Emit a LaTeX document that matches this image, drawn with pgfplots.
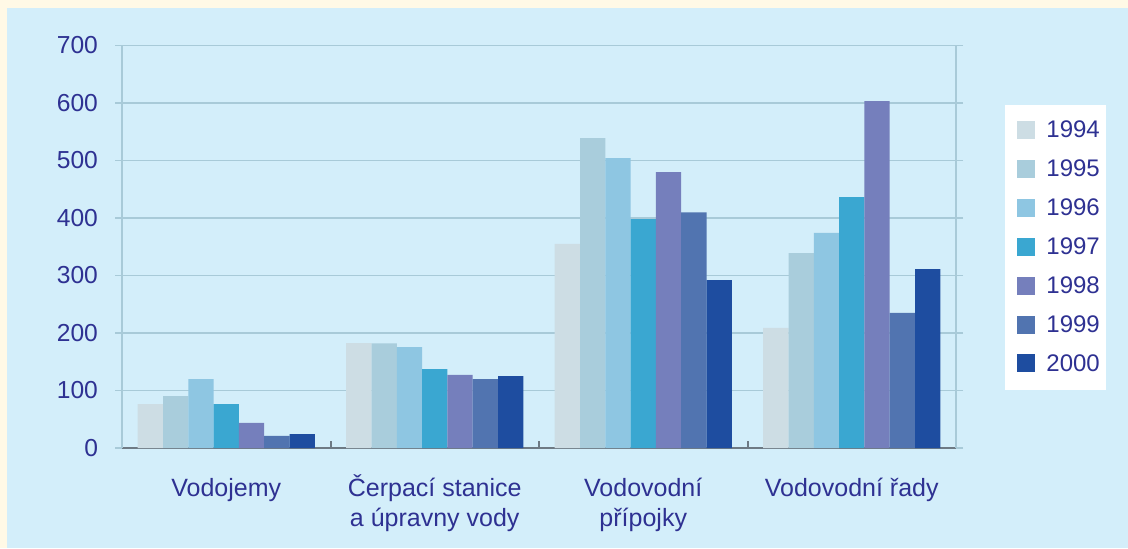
\documentclass[border=0pt]{standalone}
\usepackage{pgfplots}
\pgfplotsset{compat=1.18}
\usepackage{fontspec}
\setmainfont{Liberation Sans}
\definecolor{cream}{HTML}{FFF9E6}
\definecolor{panel}{HTML}{D3EEFA}
\definecolor{gridc}{HTML}{A8CAD8}
\definecolor{axc}{HTML}{6E7A84}
\definecolor{txt}{HTML}{2E3192}
\definecolor{c94}{HTML}{CDDDE4}
\definecolor{c95}{HTML}{A9CDDC}
\definecolor{c96}{HTML}{8EC6E2}
\definecolor{c97}{HTML}{3AA7D1}
\definecolor{c98}{HTML}{757FBC}
\definecolor{c99}{HTML}{5174B0}
\definecolor{c00}{HTML}{1E4DA0}
\begin{document}
\begin{tikzpicture}
\useasboundingbox (0,0) rectangle (564pt,274pt);
\fill[cream] (0,0) rectangle (564pt,274pt);
\fill[panel] (3.5pt,0) rectangle (564pt,270pt);
\begin{axis}[
  at={(61pt,50pt)}, anchor=south west, scale only axis,
  width=417pt, height=201.25pt,
  ybar=0pt, bar width=12.65pt,
  xmin=0.5, xmax=4.5, ymin=0, ymax=700,
  axis x line*=bottom, axis y line*=box,
  x axis line style={axc, line width=1pt},
  y axis line style={gridc, line width=0.6pt},
  xtick={1,2,3,4},
  xticklabels={Vodojemy\vphantom{Č}, {Čerpací stanice\\a úpravny vody}, {Vodovodní\vphantom{Č}\\přípojky}, Vodovodní řady\vphantom{Č}},
  xtick style={draw=none},
  extra x ticks={1.5,2.5,3.5}, extra x tick labels={},
  extra x tick style={xtick style={draw=axc, line width=1pt}, tick align=inside, xmajorgrids=false},
  ytick={0,100,...,700},
  ytick style={draw=gridc, line width=0.6pt},
  tick align=outside, major tick length=3.5pt,
  ymajorgrids, grid style={gridc, line width=0.6pt},
  /pgf/number format/assume math mode=true,
  yticklabel style={font=\fontsize{12.3}{14}\selectfont, text=txt, xshift=-5pt},
  xticklabel style={font=\fontsize{12.5}{15}\selectfont, text=txt, align=center, anchor=north, yshift=-6.5pt},
  legend style={at={(1.0588,0.8536)}, anchor=north west, draw=none, fill=white,
    inner xsep=1pt, inner ysep=6pt, row sep=5.6pt,
    font=\fontsize{12}{14}\selectfont, text=txt,
    nodes={inner sep=2pt, text depth=0.15em}, cells={anchor=west}},
  legend image code/.code={\path (0pt,0pt) (17.5pt,0pt); \fill[#1] (5pt,-4pt) rectangle (14pt,5pt);},
]
\addplot[fill=c94, draw=none] coordinates {(1,76.5) (2,182.6) (3,355) (4,209)};
\addplot[fill=c95, draw=none] coordinates {(1,90.4) (2,182) (3,539) (4,339)};
\addplot[fill=c96, draw=none] coordinates {(1,120) (2,175.6) (3,504) (4,374)};
\addplot[fill=c97, draw=none] coordinates {(1,76.5) (2,137) (3,398) (4,436.5)};
\addplot[fill=c98, draw=none] coordinates {(1,43.5) (2,127) (3,480) (4,603.5)};
\addplot[fill=c99, draw=none] coordinates {(1,20.9) (2,120) (3,410) (4,235)};
\addplot[fill=c00, draw=none] coordinates {(1,24.3) (2,125) (3,292) (4,311)};
\legend{1994,1995,1996,1997,1998,1999,2000}
\end{axis}
\end{tikzpicture}
\end{document}
